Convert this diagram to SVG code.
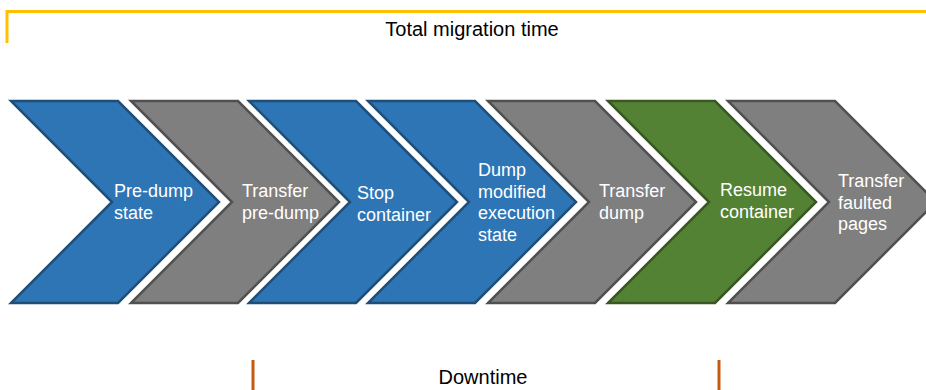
<svg xmlns="http://www.w3.org/2000/svg" width="926" height="390" viewBox="0 0 926 390">
<style>
.chev{stroke-width:2.5;stroke-linejoin:miter}
.blue{fill:#2E75B6;stroke:#1F4E79}
.gray{fill:#7F7F7F;stroke:#505050}
.green{fill:#548235;stroke:#385723}
.lbl{font-family:"Liberation Sans",Arial,sans-serif;font-size:18px;fill:#FFFFFF}
.cap{font-family:"Liberation Sans",Arial,sans-serif;font-size:20px;fill:#000000;text-anchor:middle}
</style>
<defs>
<path id="chev" d="M0,0 L107,0 L208,101 L107,202 L0,202 L101,101 Z"/>
</defs>
<g id="total-bracket">
<path d="M7,43 L7,11.5 L926,11.5" fill="none" stroke="#FFC000" stroke-width="3"/>
<text class="cap" x="472" y="35.5">Total migration time</text>
</g>
<g id="n1">
<use href="#chev" class="chev blue" x="11" y="101"/>
<text class="lbl" x="114" y="197"><tspan x="114">Pre-dump</tspan><tspan x="114" dy="21.5">state</tspan></text>
</g>
<g id="n2">
<use href="#chev" class="chev gray" x="131" y="101"/>
<text class="lbl" x="242" y="197"><tspan x="242">Transfer</tspan><tspan x="242" dy="21.5">pre-dump</tspan></text>
</g>
<g id="n3">
<use href="#chev" class="chev blue" x="249" y="101"/>
<text class="lbl" x="357" y="199"><tspan x="357">Stop</tspan><tspan x="357" dy="21.5">container</tspan></text>
</g>
<g id="n4">
<use href="#chev" class="chev blue" x="368" y="101"/>
<text class="lbl" x="478" y="176"><tspan x="478">Dump</tspan><tspan x="478" dy="21.5">modified</tspan><tspan x="478" dy="21.5">execution</tspan><tspan x="478" dy="21.5">state</tspan></text>
</g>
<g id="n5">
<use href="#chev" class="chev gray" x="488" y="101"/>
<text class="lbl" x="599" y="197"><tspan x="599">Transfer</tspan><tspan x="599" dy="21.5">dump</tspan></text>
</g>
<g id="n6">
<use href="#chev" class="chev green" x="608" y="101"/>
<text class="lbl" x="720" y="196"><tspan x="720">Resume</tspan><tspan x="720" dy="21.5">container</tspan></text>
</g>
<g id="n7">
<use href="#chev" class="chev gray" x="728" y="101"/>
<text class="lbl" x="838" y="187"><tspan x="838">Transfer</tspan><tspan x="838" dy="21.5">faulted</tspan><tspan x="838" dy="21.5">pages</tspan></text>
</g>
<g id="connectors"></g>
<g id="downtime-bracket">
<line x1="253" y1="360" x2="253" y2="390" stroke="#C55A11" stroke-width="3"/>
<line x1="719" y1="360" x2="719" y2="390" stroke="#C55A11" stroke-width="3"/>
<text class="cap" x="483" y="383.5">Downtime</text>
</g>
</svg>
